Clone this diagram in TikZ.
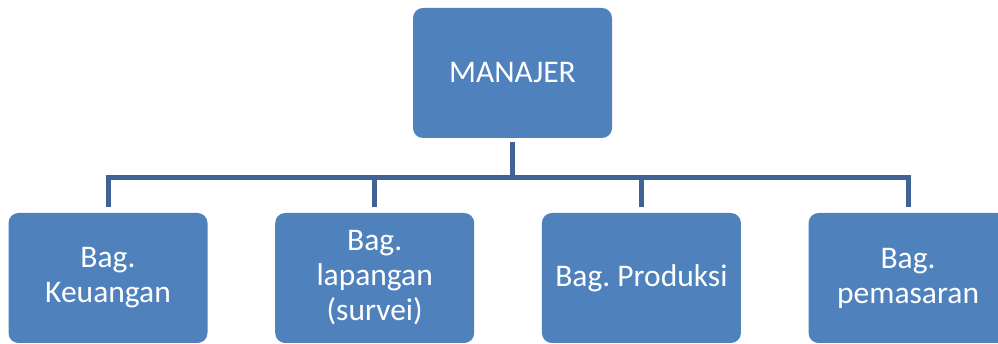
\documentclass[tikz,border=0pt]{standalone}
\usepackage{fontspec}
\setmainfont{Carlito}
\usepackage{xcolor}
\definecolor{boxblue}{HTML}{4F81BD}
\definecolor{lineblue}{HTML}{3F6494}
\frenchspacing

\begin{document}
\begin{tikzpicture}[x=1pt,y=1pt,node distance=266.7pt,
  unit/.style={rectangle,rounded corners=10pt,fill=boxblue,text=white,
    minimum width=199pt,minimum height=130pt,inner sep=0pt,align=center,
    font=\fontsize{31.5}{35}\selectfont},
  link/.style={draw=lineblue,line width=5pt}]
  \clip (0,0) rectangle (998,344);
  \node[unit]	(mgr)	at (512.5,271)	{MANAJER};
  \node[unit]	(keu)	at (108,66)	{Bag.\\Keuangan};
  \node[unit]	(lap)	[right of=keu]	{Bag.\\lapangan\\(survei)};
  \node[unit]	(prod)	[right of=lap]	{Bag. Produksi};
  \node[unit]	(pem)	[right of=prod]	{Bag.\\pemasaran};

  \path[link,shorten <=4pt] (mgr.south) -- ++(0,-39) coordinate (bus);
  \path[link,shorten >=6pt] (bus) -| (keu.north);
  \path[link,shorten >=6pt] (bus) -| (lap.north);
  \path[link,shorten >=6pt] (bus) -| (prod.north);
  \path[link,shorten >=6pt] (bus) -| (pem.north);
\end{tikzpicture}
\end{document}
